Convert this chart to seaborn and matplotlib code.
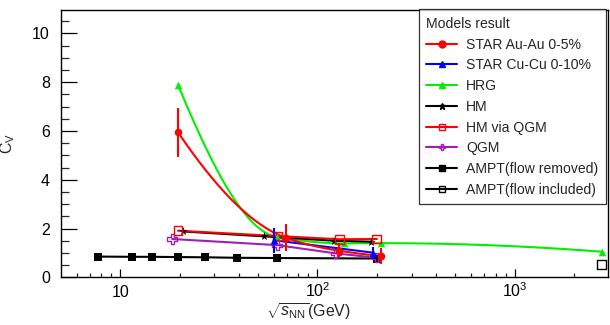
import numpy as np
import pandas as pd
import matplotlib
matplotlib.use("Agg")
import matplotlib.pyplot as plt
import seaborn as sns
from matplotlib.lines import Line2D
from matplotlib.ticker import FixedLocator, NullFormatter, MultipleLocator

# ---------------- data ----------------
star_au_x = [19.6, 69.0, 129.0, 211.0]
star_au_y = [5.95, 1.62, 1.09, 0.88]
star_au_err = [1.0, 0.55, 0.30, 0.33]

star_cu_x = [60.0, 191.0]
star_cu_y = [1.52, 1.01]
star_cu_err = [0.52, 0.25]

hrg_x = [19.6, 62.4, 137.0, 211.0, 2760.0]
hrg_y = [7.89, 1.65, 1.39, 1.40, 1.05]

hm_x = [20.8, 53.4, 121.0, 186.0]
hm_y = [1.88, 1.68, 1.50, 1.46]

hmq_x = [19.6, 62.9, 129.0, 200.0]
hmq_y = [1.91, 1.69, 1.56, 1.57]

qgm_x = [18.3, 62.4, 124.0, 200.0]
qgm_y = [1.57, 1.32, 0.98, 0.80]

ampt_x = [7.7, 11.5, 14.5, 19.6, 27.0, 39.0, 62.4, 200.0]
ampt_y = [0.85, 0.84, 0.84, 0.83, 0.82, 0.80, 0.79, 0.77]

ampt_flow_x = [2760.0]
ampt_flow_y = [0.53]

xtick_vals = [10, 100, 1000]
xtick_labels = ["10", "$10^{2}$", "$10^{3}$"]

labels = ["STAR Au-Au 0-5%", "STAR Cu-Cu 0-10%", "HRG", "HM", "HM via QGM",
          "QGM", "AMPT(flow removed)", "AMPT(flow included)"]

# ---------------- style ----------------
sns.set_style("ticks")
plt.rcParams["font.family"] = ["Liberation Sans", "DejaVu Sans"]
plt.rcParams["mathtext.fontset"] = "custom"
plt.rcParams["mathtext.rm"] = "Liberation Sans"
plt.rcParams["mathtext.it"] = "Liberation Sans:italic"
plt.rcParams["mathtext.bf"] = "Liberation Sans:bold"

RED = "#ff0000"
BLUE = "#0000ff"
GREEN = "#00f000"
PURPLE = "#a01eb4"
BLACK = "#000000"


def pchip(x, y, xn):
    """Smooth monotone curve through the data (for drawing the line only)."""
    x = np.asarray(x, float)
    y = np.asarray(y, float)
    h = np.diff(x)
    d = np.diff(y) / h
    n = len(x)
    m = np.zeros(n)
    for k in range(1, n - 1):
        if d[k - 1] * d[k] > 0:
            w1 = 2 * h[k] + h[k - 1]
            w2 = h[k] + 2 * h[k - 1]
            m[k] = (w1 + w2) / (w1 / d[k - 1] + w2 / d[k])
    def end(h0, h1, d0, d1):
        v = ((2 * h0 + h1) * d0 - h0 * d1) / (h0 + h1)
        if np.sign(v) != np.sign(d0):
            v = 0.0
        elif np.sign(d0) != np.sign(d1) and abs(v) > abs(3 * d0):
            v = 3 * d0
        return v
    m[0] = end(h[0], h[1], d[0], d[1])
    m[-1] = end(h[-1], h[-2], d[-1], d[-2])
    out = np.empty_like(xn)
    for i, xv in enumerate(xn):
        k = min(max(np.searchsorted(x, xv) - 1, 0), n - 2)
        t = (xv - x[k]) / h[k]
        h00 = 2 * t**3 - 3 * t**2 + 1
        h10 = t**3 - 2 * t**2 + t
        h01 = -2 * t**3 + 3 * t**2
        h11 = t**3 - t**2
        out[i] = h00 * y[k] + h10 * h[k] * m[k] + h01 * y[k + 1] + h11 * h[k] * m[k + 1]
    return out


def smooth(xs, ys):
    lx = np.log10(xs)
    grid = np.linspace(lx[0], lx[-1], 300)
    return pd.DataFrame({"x": 10 ** grid, "y": pchip(lx, ys, grid)})


fig = plt.figure(figsize=(6.1, 3.25), dpi=100)
ax = fig.add_axes([61 / 610, 1 - 277.3 / 325, (607.7 - 61) / 610, (277.3 - 10) / 325])

LW = 1.5

# HRG (smooth)
sns.lineplot(data=smooth(hrg_x, hrg_y), x="x", y="y", ax=ax, color=GREEN, lw=LW,
             estimator=None, sort=False, legend=False)
sns.scatterplot(x=hrg_x, y=hrg_y, ax=ax, color=GREEN, marker="^", s=30,
                edgecolor=GREEN, linewidth=0, zorder=3, legend=False)

# AMPT flow removed
sns.lineplot(x=ampt_x, y=ampt_y, ax=ax, color=BLACK, lw=LW, estimator=None,
             sort=False, legend=False)
sns.scatterplot(x=ampt_x, y=ampt_y, ax=ax, color=BLACK, marker="s", s=30,
                edgecolor=BLACK, linewidth=0, zorder=3, legend=False)

# AMPT flow included
sns.scatterplot(x=ampt_flow_x, y=ampt_flow_y, ax=ax, color=BLACK, marker="s", s=36,
                facecolor="none", edgecolor=BLACK, linewidth=1.0, zorder=3, legend=False)

# QGM
sns.lineplot(x=qgm_x, y=qgm_y, ax=ax, color=PURPLE, lw=LW, estimator=None,
             sort=False, legend=False)
sns.scatterplot(x=qgm_x, y=qgm_y, ax=ax, color=PURPLE, marker="P", s=45,
                facecolor="none", edgecolor=PURPLE, linewidth=1.0, zorder=3, legend=False)

# HM
sns.lineplot(x=hm_x, y=hm_y, ax=ax, color=BLACK, lw=LW, estimator=None,
             sort=False, legend=False)
sns.scatterplot(x=hm_x, y=hm_y, ax=ax, color=BLACK, marker="*", s=40,
                edgecolor=BLACK, linewidth=0, zorder=3, legend=False)

# HM via QGM
sns.lineplot(x=hmq_x, y=hmq_y, ax=ax, color=RED, lw=LW, estimator=None,
             sort=False, legend=False)
sns.scatterplot(x=hmq_x, y=hmq_y, ax=ax, color=RED, marker="s", s=40,
                facecolor="none", edgecolor=RED, linewidth=1.0, zorder=3, legend=False)

# STAR Cu-Cu
sns.lineplot(x=star_cu_x, y=star_cu_y, ax=ax, color=BLUE, lw=LW, estimator=None,
             sort=False, legend=False)
ax.errorbar(star_cu_x, star_cu_y, yerr=star_cu_err, fmt="none", ecolor=BLUE,
            elinewidth=LW, capsize=0, zorder=3)
sns.scatterplot(x=star_cu_x, y=star_cu_y, ax=ax, color=BLUE, marker="^", s=30,
                edgecolor=BLUE, linewidth=0, zorder=4, legend=False)

# STAR Au-Au (smooth)
sns.lineplot(data=smooth(star_au_x, star_au_y), x="x", y="y", ax=ax, color=RED, lw=LW,
             estimator=None, sort=False, legend=False)
ax.errorbar(star_au_x, star_au_y, yerr=star_au_err, fmt="none", ecolor=RED,
            elinewidth=LW, capsize=0, zorder=3)
sns.scatterplot(x=star_au_x, y=star_au_y, ax=ax, color=RED, marker="o", s=30,
                edgecolor=RED, linewidth=0, zorder=4, legend=False)

# ---------------- axes ----------------
ax.set_xscale("log")
ax.set_xlim(5, 2966)
ax.set_ylim(0, 10.96)

ax.xaxis.set_major_locator(FixedLocator(xtick_vals))
minors = [v * d for d in (1, 10, 100) for v in range(2, 10)] + [6, 7, 8, 9, 2000, 3000]
minors = sorted(set(m for m in minors if 5 < m < 2966 and m not in xtick_vals))
ax.xaxis.set_minor_locator(FixedLocator(minors))
ax.xaxis.set_minor_formatter(NullFormatter())
ax.set_xticks(xtick_vals)
ax.set_xticklabels(xtick_labels)

ax.yaxis.set_major_locator(MultipleLocator(2))
ax.yaxis.set_minor_locator(MultipleLocator(0.5))

ax.tick_params(axis="x", which="major", direction="in", length=5.8, width=0.9,
               labelsize=11.5, pad=14.5, colors=BLACK)
ax.tick_params(axis="x", which="minor", direction="in", length=2.9, width=0.9)
ax.tick_params(axis="y", which="major", direction="in", length=11.5, width=0.9,
               labelsize=11.5, pad=8, colors=BLACK)
ax.tick_params(axis="y", which="minor", direction="in", length=5.8, width=0.9)
for lab in ax.get_xticklabels():
    lab.set_verticalalignment("baseline")

for s in ax.spines.values():
    s.set_color(BLACK)
    s.set_linewidth(1.0)

ax.set_xlabel(r"$\sqrt{s_{\rm NN}}$(GeV)", fontsize=11.5, va="top")
ax.xaxis.set_label_coords(0.452, -0.09)
ax.set_ylabel(r"C$_{\rm V}$", fontsize=11.5)
ax.yaxis.set_label_coords(-0.08, 0.5)

# ---------------- legend ----------------
specs = [
    (RED, "o", RED), (BLUE, "^", BLUE), (GREEN, "^", GREEN), (BLACK, "*", BLACK),
    (RED, "s", "none"), (PURPLE, "P", "none"), (BLACK, "s", BLACK), (BLACK, "s", "none"),
]
handles = [Line2D([], [], color=c, lw=LW, marker=m, ms=5, mfc=fc, mec=c, mew=1.0)
           for c, m, fc in specs]
leg = ax.legend(handles, labels, title="Models result", loc="upper right",
                bbox_to_anchor=(0.997, 1.003), borderaxespad=0.0, fontsize=10.1,
                title_fontsize=10.1, frameon=True, fancybox=False, edgecolor=BLACK,
                handlelength=2.2, handletextpad=0.65, labelspacing=0.48,
                borderpad=0.55, alignment="left")
leg.get_frame().set_linewidth(0.9)

fig.savefig("out.png", dpi=100)
